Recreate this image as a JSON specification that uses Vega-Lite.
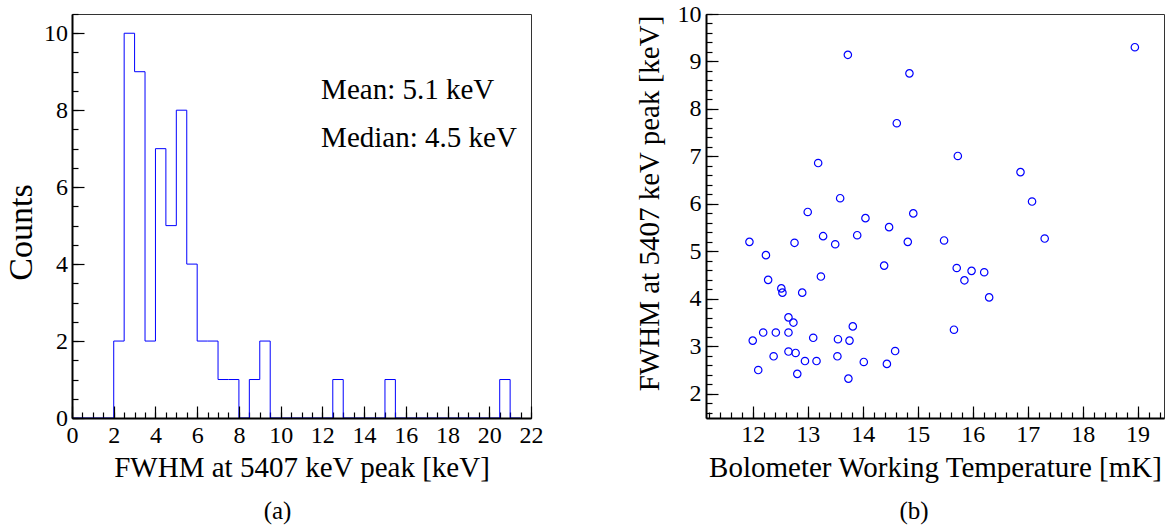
{
  "$schema": "https://vega.github.io/schema/vega-lite/v6.json",
  "background": "white",
  "padding": {"left": 4, "top": 1, "right": 4, "bottom": 4},
  "config": {
    "font": "Liberation Serif",
    "style": {"guide-label": {"font": "Liberation Serif"}, "guide-title": {"font": "Liberation Serif"}},
    "view": {"stroke": "#333333", "strokeWidth": 1},
    "axis": {
      "grid": false, "domainColor": "#000000", "domainWidth": 2,
      "tickColor": "#000000", "tickWidth": 1.2,
      "labelColor": "#000000", "titleColor": "#000000",
      "labelFont": "Liberation Serif", "titleFont": "Liberation Serif",
      "labelFontSize": 24, "titleFontSize": 29, "titleFontWeight": "normal",
      "labelOverlap": false, "labelFlush": false, "zindex": 1
    },
    "title": {"font": "Liberation Serif", "fontSize": 25, "fontWeight": "normal", "color": "#000000"}
  },
  "spacing": 90,
  "hconcat": [
    {
      "width": 459,
      "height": 404,
      "title": {"text": "(a)", "orient": "bottom", "anchor": "middle", "dx": -24, "offset": 17, "font": "Liberation Serif"},
      "layer": [
        {
          "data": {"values": [
            {"bin_start": 0, "count": 0}, {"bin_start": 0.5, "count": 0}, {"bin_start": 1, "count": 0}, {"bin_start": 1.5, "count": 0},
            {"bin_start": 2, "count": 2}, {"bin_start": 2.5, "count": 10}, {"bin_start": 3, "count": 9}, {"bin_start": 3.5, "count": 2},
            {"bin_start": 4, "count": 7}, {"bin_start": 4.5, "count": 5}, {"bin_start": 5, "count": 8}, {"bin_start": 5.5, "count": 4},
            {"bin_start": 6, "count": 2}, {"bin_start": 6.5, "count": 2}, {"bin_start": 7, "count": 1}, {"bin_start": 7.5, "count": 1},
            {"bin_start": 8, "count": 0}, {"bin_start": 8.5, "count": 1}, {"bin_start": 9, "count": 2}, {"bin_start": 9.5, "count": 0},
            {"bin_start": 10, "count": 0}, {"bin_start": 10.5, "count": 0}, {"bin_start": 11, "count": 0}, {"bin_start": 11.5, "count": 0},
            {"bin_start": 12, "count": 0}, {"bin_start": 12.5, "count": 1}, {"bin_start": 13, "count": 0}, {"bin_start": 13.5, "count": 0},
            {"bin_start": 14, "count": 0}, {"bin_start": 14.5, "count": 0}, {"bin_start": 15, "count": 1}, {"bin_start": 15.5, "count": 0},
            {"bin_start": 16, "count": 0}, {"bin_start": 16.5, "count": 0}, {"bin_start": 17, "count": 0}, {"bin_start": 17.5, "count": 0},
            {"bin_start": 18, "count": 0}, {"bin_start": 18.5, "count": 0}, {"bin_start": 19, "count": 0}, {"bin_start": 19.5, "count": 0},
            {"bin_start": 20, "count": 0}, {"bin_start": 20.5, "count": 1}, {"bin_start": 21, "count": 0}, {"bin_start": 21.5, "count": 0}
          ]},
          "mark": {"type": "line", "interpolate": "step-after", "color": "#0000ff", "strokeWidth": 1},
          "encoding": {
            "x": {"field": "bin_start", "type": "quantitative",
              "scale": {"domain": [0, 22], "nice": false, "zero": false},
              "axis": {"title": "FWHM at 5407 keV peak [keV]", "values": [0, 2, 4, 6, 8, 10, 12, 14, 16, 18, 20, 22],
                "tickSize": -12, "labelPadding": 17, "titleY": 35,
                "labelFont": "Liberation Serif", "titleFont": "Liberation Serif", "zindex": 2}},
            "y": {"field": "count", "type": "quantitative",
              "scale": {"domain": [0, 10.5], "nice": false},
              "axis": {"title": "Counts", "values": [0, 2, 4, 6, 8, 10], "tickSize": -12, "labelPadding": 16.5,
                "titleFontSize": 34, "titleX": -33.5, "titleY": 218,
                "labelFont": "Liberation Serif", "titleFont": "Liberation Serif", "zindex": 2}}
          }
        },
        {
          "data": {"values": [
            {"pos": 11.94, "level": 8.53, "label": "Mean: 5.1 keV"},
            {"pos": 11.94, "level": 7.28, "label": "Median: 4.5 keV"}
          ]},
          "mark": {"type": "text", "align": "left", "baseline": "middle", "fontSize": 29, "font": "Liberation Serif", "color": "#000000"},
          "encoding": {
            "x": {"field": "pos", "type": "quantitative",
              "scale": {"domain": [0, 22], "nice": false, "zero": false},
              "axis": {"orient": "bottom", "title": null, "labels": false, "domain": false, "tickSize": -6,
                "values": [0,0.5,1,1.5,2,2.5,3,3.5,4,4.5,5,5.5,6,6.5,7,7.5,8,8.5,9,9.5,10,10.5,11,11.5,12,12.5,13,13.5,14,14.5,15,15.5,16,16.5,17,17.5,18,18.5,19,19.5,20,20.5,21,21.5,22]}},
            "y": {"field": "level", "type": "quantitative",
              "scale": {"domain": [0, 10.5], "nice": false},
              "axis": {"orient": "left", "title": null, "labels": false, "domain": false, "tickSize": -6,
                "values": [0,0.5,1,1.5,2,2.5,3,3.5,4,4.5,5,5.5,6,6.5,7,7.5,8,8.5,9,9.5,10,10.5]}},
            "text": {"field": "label"}
          }
        }
      ],
      "resolve": {"axis": {"x": "independent", "y": "independent"}}
    },
    {
      "width": 458,
      "height": 404,
      "title": {"text": "(b)", "orient": "bottom", "anchor": "middle", "dx": -21, "offset": 17, "font": "Liberation Serif"},
      "data": {"values": [
        {"temperature_mK": 11.94, "fwhm_keV": 5.20}, {"temperature_mK": 12.00, "fwhm_keV": 3.12},
        {"temperature_mK": 12.10, "fwhm_keV": 2.50}, {"temperature_mK": 12.19, "fwhm_keV": 3.29},
        {"temperature_mK": 12.24, "fwhm_keV": 4.92}, {"temperature_mK": 12.28, "fwhm_keV": 4.40},
        {"temperature_mK": 12.38, "fwhm_keV": 2.79}, {"temperature_mK": 12.42, "fwhm_keV": 3.29},
        {"temperature_mK": 12.52, "fwhm_keV": 4.22}, {"temperature_mK": 12.54, "fwhm_keV": 4.13},
        {"temperature_mK": 12.65, "fwhm_keV": 3.61}, {"temperature_mK": 12.65, "fwhm_keV": 3.29},
        {"temperature_mK": 12.65, "fwhm_keV": 2.89}, {"temperature_mK": 12.74, "fwhm_keV": 3.50},
        {"temperature_mK": 12.76, "fwhm_keV": 5.18}, {"temperature_mK": 12.78, "fwhm_keV": 2.86},
        {"temperature_mK": 12.81, "fwhm_keV": 2.42}, {"temperature_mK": 12.90, "fwhm_keV": 4.13},
        {"temperature_mK": 12.95, "fwhm_keV": 2.69}, {"temperature_mK": 13.00, "fwhm_keV": 5.83},
        {"temperature_mK": 13.10, "fwhm_keV": 3.18}, {"temperature_mK": 13.16, "fwhm_keV": 2.69},
        {"temperature_mK": 13.19, "fwhm_keV": 6.86}, {"temperature_mK": 13.24, "fwhm_keV": 4.47},
        {"temperature_mK": 13.28, "fwhm_keV": 5.32}, {"temperature_mK": 13.50, "fwhm_keV": 5.15},
        {"temperature_mK": 13.54, "fwhm_keV": 2.79}, {"temperature_mK": 13.55, "fwhm_keV": 3.15},
        {"temperature_mK": 13.59, "fwhm_keV": 6.12}, {"temperature_mK": 13.73, "fwhm_keV": 9.14},
        {"temperature_mK": 13.74, "fwhm_keV": 2.32}, {"temperature_mK": 13.76, "fwhm_keV": 3.12},
        {"temperature_mK": 13.82, "fwhm_keV": 3.42}, {"temperature_mK": 13.90, "fwhm_keV": 5.34},
        {"temperature_mK": 14.02, "fwhm_keV": 2.67}, {"temperature_mK": 14.05, "fwhm_keV": 5.70},
        {"temperature_mK": 14.39, "fwhm_keV": 4.70}, {"temperature_mK": 14.44, "fwhm_keV": 2.63},
        {"temperature_mK": 14.48, "fwhm_keV": 5.51}, {"temperature_mK": 14.59, "fwhm_keV": 2.90},
        {"temperature_mK": 14.62, "fwhm_keV": 7.70}, {"temperature_mK": 14.85, "fwhm_keV": 8.75},
        {"temperature_mK": 14.82, "fwhm_keV": 5.20}, {"temperature_mK": 14.92, "fwhm_keV": 5.80},
        {"temperature_mK": 15.48, "fwhm_keV": 5.23}, {"temperature_mK": 15.66, "fwhm_keV": 3.35},
        {"temperature_mK": 15.71, "fwhm_keV": 4.65}, {"temperature_mK": 15.73, "fwhm_keV": 7.01},
        {"temperature_mK": 15.85, "fwhm_keV": 4.39}, {"temperature_mK": 15.98, "fwhm_keV": 4.59},
        {"temperature_mK": 16.21, "fwhm_keV": 4.56}, {"temperature_mK": 16.30, "fwhm_keV": 4.03},
        {"temperature_mK": 16.87, "fwhm_keV": 6.67}, {"temperature_mK": 17.08, "fwhm_keV": 6.05},
        {"temperature_mK": 17.31, "fwhm_keV": 5.27}, {"temperature_mK": 18.95, "fwhm_keV": 9.30}
      ]},
      "layer": [
        {
          "mark": {"type": "point", "shape": "circle", "filled": false, "color": "#0000ff", "size": 55, "strokeWidth": 1.2, "opacity": 1},
          "encoding": {
            "x": {"field": "temperature_mK", "type": "quantitative",
              "scale": {"domain": [11.15, 19.48], "nice": false, "zero": false},
              "axis": {"title": "Bolometer Working Temperature [mK]", "values": [12, 13, 14, 15, 16, 17, 18, 19],
                "tickSize": -12, "labelPadding": 16, "titleY": 35,
                "labelFont": "Liberation Serif", "titleFont": "Liberation Serif"}},
            "y": {"field": "fwhm_keV", "type": "quantitative",
              "scale": {"domain": [1.49, 10], "nice": false, "zero": false},
              "axis": {"title": "FWHM at 5407 keV peak [keV]", "values": [2, 3, 4, 5, 6, 7, 8, 9, 10],
                "tickSize": -12, "labelPadding": 17, "titleX": -42, "titleY": 189,
                "labelFont": "Liberation Serif", "titleFont": "Liberation Serif"}}
          }
        },
        {
          "mark": {"type": "point", "opacity": 0},
          "encoding": {
            "x": {"field": "temperature_mK", "type": "quantitative",
              "scale": {"domain": [11.15, 19.48], "nice": false, "zero": false},
              "axis": {"orient": "bottom", "title": null, "labels": false, "domain": false, "tickSize": -6,
                "values": [11.2,11.4,11.6,11.8,12,12.2,12.4,12.6,12.8,13,13.2,13.4,13.6,13.8,14,14.2,14.4,14.6,14.8,15,15.2,15.4,15.6,15.8,16,16.2,16.4,16.6,16.8,17,17.2,17.4,17.6,17.8,18,18.2,18.4,18.6,18.8,19,19.2,19.4]}},
            "y": {"field": "fwhm_keV", "type": "quantitative",
              "scale": {"domain": [1.49, 10], "nice": false, "zero": false},
              "axis": {"orient": "left", "title": null, "labels": false, "domain": false, "tickSize": -6,
                "values": [1.6,1.8,2,2.2,2.4,2.6,2.8,3,3.2,3.4,3.6,3.8,4,4.2,4.4,4.6,4.8,5,5.2,5.4,5.6,5.8,6,6.2,6.4,6.6,6.8,7,7.2,7.4,7.6,7.8,8,8.2,8.4,8.6,8.8,9,9.2,9.4,9.6,9.8,10]}}
          }
        }
      ],
      "resolve": {"axis": {"x": "independent", "y": "independent"}}
    }
  ]
}
